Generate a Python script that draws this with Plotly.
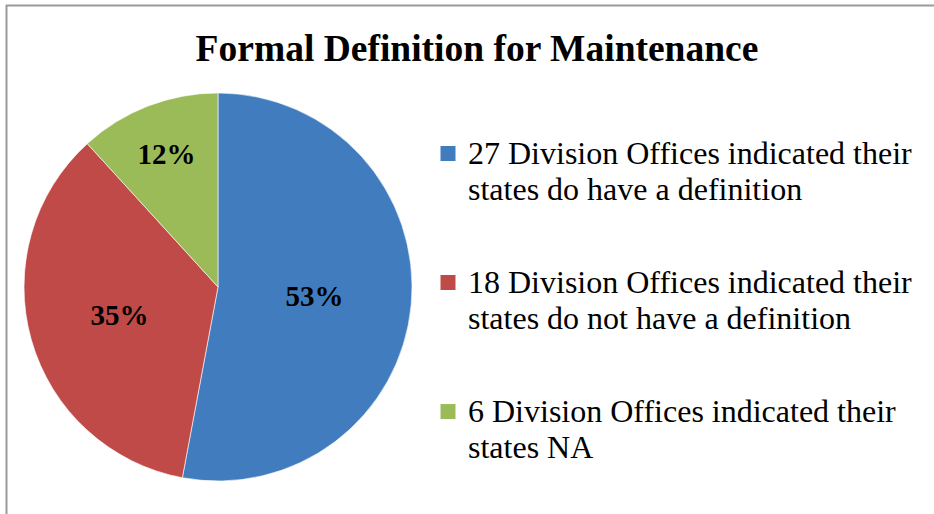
import plotly.graph_objects as go

legend_lines = [
    ["27 Division Offices indicated their", "states do have a definition"],
    ["18 Division Offices indicated their", "states do not have a definition"],
    ["6 Division Offices indicated their", "states NA"],
]
labels = ["<br>".join(l) for l in legend_lines]
values = [27, 18, 6]
colors = ["#417DBE", "#C04A48", "#9BBB59"]
title = "Formal Definition for Maintenance"

W, H = 934, 514
fig = go.Figure()
fig.add_trace(go.Pie(
    labels=labels,
    values=values,
    sort=False,
    direction="clockwise",
    rotation=0,
    marker=dict(colors=colors, line=dict(color="white", width=0.6)),
    texttemplate="<b>%{percent:.0%}</b>",
    textposition="inside",
    insidetextorientation="horizontal",
    textfont=dict(family="Liberation Serif", size=29, color="black"),
    domain=dict(x=[24 / W, 412 / W], y=[1 - 481 / H, 1 - 93 / H]),
    hoverinfo="label+percent",
    showlegend=False,
))

# legend entries (same labels / colours as the slices)
for i, (lines, c) in enumerate(zip(legend_lines, colors)):
    name = "<br>".join("<span style='font-size:32px'>" + s + "</span>" for s in lines)
    fig.add_trace(go.Scatter(
        x=[None], y=[None], mode="markers", name=name,
        legendgroup="g%d" % i,
        marker=dict(symbol="square", size=15, color=c),
        hoverinfo="skip",
    ))

fig.update_layout(
    width=W, height=H,
    margin=dict(l=0, r=0, t=0, b=0),
    paper_bgcolor="white",
    plot_bgcolor="rgba(0,0,0,0)",
    xaxis=dict(visible=False),
    yaxis=dict(visible=False),
    title=dict(text="<b>" + title + "</b>", x=477 / W, xanchor="center",
               y=1 - 48 / H, yanchor="middle",
               font=dict(family="Liberation Serif", size=37.5, color="black")),
    legend=dict(x=428 / W, y=1 - 129 / H, xanchor="left", yanchor="top",
                valign="top", tracegroupgap=54, itemclick=False,
                font=dict(family="Liberation Serif", size=27.7, color="black"),
                bgcolor="rgba(0,0,0,0)"),
    shapes=[
        dict(type="line", xref="paper", yref="paper", x0=6.5 / W, x1=6.5 / W, y0=0, y1=1 - 5 / H,
             line=dict(color="#9a9a9a", width=2)),
        dict(type="line", xref="paper", yref="paper", x0=6 / W, x1=1, y0=1 - 5.5 / H, y1=1 - 5.5 / H,
             line=dict(color="#9a9a9a", width=2)),
    ],
)

fig.write_html("out.html", config={"displayModeBar": False},
               post_script="document.body.style.margin='0';document.body.style.overflow='hidden';")
